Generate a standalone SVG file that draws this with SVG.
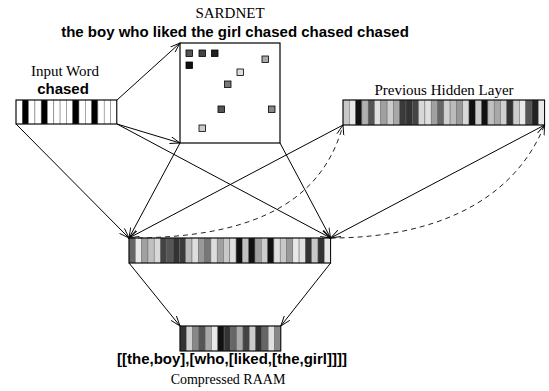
<svg xmlns="http://www.w3.org/2000/svg" width="549" height="391" viewBox="0 0 549 391">
<style>
.serif{font-family:"Liberation Serif","Times New Roman",serif;font-size:15px;fill:#000}
.bold{font-family:"Liberation Sans",Arial,sans-serif;font-size:15px;font-weight:bold;fill:#000}
.c{stroke:#666;stroke-width:0.5}
.frame{fill:none;stroke:#000;stroke-width:1}
.sq{stroke:#000;stroke-width:0.8}
.ln{fill:none;stroke:#000;stroke-width:1;marker-end:url(#a)}
.dash{fill:none;stroke:#222;stroke-width:1;stroke-dasharray:5 4;marker-end:url(#a)}
</style>
<defs>
<marker id="a" markerWidth="12" markerHeight="9" refX="10" refY="4.5" orient="auto" markerUnits="userSpaceOnUse">
<path d="M0,1 L10,4.5 L0,8" fill="none" stroke="#000" stroke-width="0.9"/>
</marker>
</defs>
<rect width="549" height="391" fill="#fff"/>

<g id="sardnet">
<text class="serif" x="230" y="18" text-anchor="middle">SARDNET</text>
<text class="bold" x="235" y="37" text-anchor="middle">the boy who liked the girl chased chased chased</text>
<rect x="180" y="43" width="100" height="100" fill="#fff" stroke="#000" stroke-width="1.2"/>
<rect class="sq" x="186" y="50" width="6.5" height="6.5" fill="#555"/>
<rect class="sq" x="199" y="50" width="6.5" height="6.5" fill="#444"/>
<rect class="sq" x="211.5" y="50" width="6.5" height="6.5" fill="#222"/>
<rect class="sq" x="186" y="62" width="6.5" height="6.5" fill="#111"/>
<rect class="sq" x="262" y="56" width="6.5" height="6.5" fill="#aaa"/>
<rect class="sq" x="237" y="69" width="6.5" height="6.5" fill="#ddd"/>
<rect class="sq" x="224.5" y="81" width="6.5" height="6.5" fill="#777"/>
<rect class="sq" x="218" y="106" width="6.5" height="6.5" fill="#555"/>
<rect class="sq" x="268.5" y="106" width="6.5" height="6.5" fill="#888"/>
<rect class="sq" x="199" y="125" width="6.5" height="6.5" fill="#ccc"/>
</g>

<g id="input-word">
<text class="serif" x="65" y="76" text-anchor="middle">Input Word</text>
<text class="bold" x="63" y="94" text-anchor="middle">chased</text>
<g transform="translate(16,100)">
<rect class="c" x="0" width="6.3" height="24" fill="#fff"/>
<rect class="c" x="6.3" width="6.3" height="24" fill="#000"/>
<rect class="c" x="12.6" width="6.3" height="24" fill="#fff"/>
<rect class="c" x="18.9" width="6.3" height="24" fill="#fff"/>
<rect class="c" x="25.2" width="6.3" height="24" fill="#000"/>
<rect class="c" x="31.5" width="6.3" height="24" fill="#fff"/>
<rect class="c" x="37.8" width="6.3" height="24" fill="#fff"/>
<rect class="c" x="44.1" width="6.3" height="24" fill="#fff"/>
<rect class="c" x="50.4" width="6.3" height="24" fill="#fff"/>
<rect class="c" x="56.7" width="6.3" height="24" fill="#000"/>
<rect class="c" x="63" width="6.3" height="24" fill="#fff"/>
<rect class="c" x="69.3" width="6.3" height="24" fill="#fff"/>
<rect class="c" x="75.6" width="6.3" height="24" fill="#000"/>
<rect class="c" x="81.9" width="6.3" height="24" fill="#fff"/>
<rect class="c" x="88.2" width="6.3" height="24" fill="#fff"/>
<rect class="c" x="94.5" width="6.3" height="24" fill="#fff"/>
<rect class="frame" x="0" y="0" width="100.8" height="24"/>
</g>
</g>

<g id="previous-hidden-layer">
<text class="serif" x="444" y="95" text-anchor="middle">Previous Hidden Layer</text>
<g transform="translate(343,100)">
<rect class="c" x="0" width="6.3" height="25" fill="#c8c8c8"/>
<rect class="c" x="6.3" width="6.3" height="25" fill="#e8e8e8"/>
<rect class="c" x="12.6" width="6.3" height="25" fill="#111"/>
<rect class="c" x="18.9" width="6.3" height="25" fill="#b0b0b0"/>
<rect class="c" x="25.2" width="6.3" height="25" fill="#555"/>
<rect class="c" x="31.5" width="6.3" height="25" fill="#e0e0e0"/>
<rect class="c" x="37.8" width="6.3" height="25" fill="#a0a0a0"/>
<rect class="c" x="44.1" width="6.3" height="25" fill="#ccc"/>
<rect class="c" x="50.4" width="6.3" height="25" fill="#a8a8a8"/>
<rect class="c" x="56.7" width="6.3" height="25" fill="#3a3a3a"/>
<rect class="c" x="63" width="6.3" height="25" fill="#333"/>
<rect class="c" x="69.3" width="6.3" height="25" fill="#444"/>
<rect class="c" x="75.6" width="6.3" height="25" fill="#d8d8d8"/>
<rect class="c" x="81.9" width="6.3" height="25" fill="#e0e0e0"/>
<rect class="c" x="88.2" width="6.3" height="25" fill="#a0a0a0"/>
<rect class="c" x="94.5" width="6.3" height="25" fill="#666"/>
<rect class="c" x="100.8" width="6.3" height="25" fill="#d0d0d0"/>
<rect class="c" x="107.1" width="6.3" height="25" fill="#bbb"/>
<rect class="c" x="113.4" width="6.3" height="25" fill="#999"/>
<rect class="c" x="119.7" width="6.3" height="25" fill="#d8d8d8"/>
<rect class="c" x="126" width="6.3" height="25" fill="#111"/>
<rect class="c" x="132.3" width="6.3" height="25" fill="#ccc"/>
<rect class="c" x="138.6" width="6.3" height="25" fill="#111"/>
<rect class="c" x="144.9" width="6.3" height="25" fill="#c0c0c0"/>
<rect class="c" x="151.2" width="6.3" height="25" fill="#a8a8a8"/>
<rect class="c" x="157.5" width="6.3" height="25" fill="#d0d0d0"/>
<rect class="c" x="163.8" width="6.3" height="25" fill="#333"/>
<rect class="c" x="170.1" width="6.3" height="25" fill="#ccc"/>
<rect class="c" x="176.4" width="6.3" height="25" fill="#e8e8e8"/>
<rect class="c" x="182.7" width="6.3" height="25" fill="#555"/>
<rect class="c" x="189" width="6.3" height="25" fill="#222"/>
<rect class="c" x="195.3" width="6.3" height="25" fill="#e8e8e8"/>
<rect class="frame" x="0" y="0" width="201.6" height="25"/>
</g>
</g>

<g id="hidden-layer">
<g transform="translate(129,238)">
<rect class="c" x="0" width="6.3" height="25" fill="#666"/>
<rect class="c" x="6.3" width="6.3" height="25" fill="#e8e8e8"/>
<rect class="c" x="12.6" width="6.3" height="25" fill="#a0a0a0"/>
<rect class="c" x="18.9" width="6.3" height="25" fill="#c0c0c0"/>
<rect class="c" x="25.2" width="6.3" height="25" fill="#d8d8d8"/>
<rect class="c" x="31.5" width="6.3" height="25" fill="#444"/>
<rect class="c" x="37.8" width="6.3" height="25" fill="#555"/>
<rect class="c" x="44.1" width="6.3" height="25" fill="#333"/>
<rect class="c" x="50.4" width="6.3" height="25" fill="#3a3a3a"/>
<rect class="c" x="56.7" width="6.3" height="25" fill="#bbb"/>
<rect class="c" x="63" width="6.3" height="25" fill="#ddd"/>
<rect class="c" x="69.3" width="6.3" height="25" fill="#999"/>
<rect class="c" x="75.6" width="6.3" height="25" fill="#777"/>
<rect class="c" x="81.9" width="6.3" height="25" fill="#ddd"/>
<rect class="c" x="88.2" width="6.3" height="25" fill="#a0a0a0"/>
<rect class="c" x="94.5" width="6.3" height="25" fill="#c8c8c8"/>
<rect class="c" x="100.8" width="6.3" height="25" fill="#e0e0e0"/>
<rect class="c" x="107.1" width="6.3" height="25" fill="#111"/>
<rect class="c" x="113.4" width="6.3" height="25" fill="#c0c0c0"/>
<rect class="c" x="119.7" width="6.3" height="25" fill="#111"/>
<rect class="c" x="126" width="6.3" height="25" fill="#a0a0a0"/>
<rect class="c" x="132.3" width="6.3" height="25" fill="#ccc"/>
<rect class="c" x="138.6" width="6.3" height="25" fill="#111"/>
<rect class="c" x="144.9" width="6.3" height="25" fill="#e0e0e0"/>
<rect class="c" x="151.2" width="6.3" height="25" fill="#c8c8c8"/>
<rect class="c" x="157.5" width="6.3" height="25" fill="#999"/>
<rect class="c" x="163.8" width="6.3" height="25" fill="#e8e8e8"/>
<rect class="c" x="170.1" width="6.3" height="25" fill="#e0e0e0"/>
<rect class="c" x="176.4" width="6.3" height="25" fill="#333"/>
<rect class="c" x="182.7" width="6.3" height="25" fill="#c8c8c8"/>
<rect class="c" x="189" width="6.3" height="25" fill="#333"/>
<rect class="c" x="195.3" width="6.3" height="25" fill="#e8e8e8"/>
<rect class="frame" x="0" y="0" width="201.6" height="25"/>
</g>
</g>

<g id="compressed-raam">
<g transform="translate(180,326)">
<rect class="c" x="0" width="6.3" height="25" fill="#333"/>
<rect class="c" x="6.3" width="6.3" height="25" fill="#d0d0d0"/>
<rect class="c" x="12.6" width="6.3" height="25" fill="#888"/>
<rect class="c" x="18.9" width="6.3" height="25" fill="#555"/>
<rect class="c" x="25.2" width="6.3" height="25" fill="#a8a8a8"/>
<rect class="c" x="31.5" width="6.3" height="25" fill="#e8e8e8"/>
<rect class="c" x="37.8" width="6.3" height="25" fill="#111"/>
<rect class="c" x="44.1" width="6.3" height="25" fill="#333"/>
<rect class="c" x="50.4" width="6.3" height="25" fill="#666"/>
<rect class="c" x="56.7" width="6.3" height="25" fill="#aaa"/>
<rect class="c" x="63" width="6.3" height="25" fill="#444"/>
<rect class="c" x="69.3" width="6.3" height="25" fill="#ccc"/>
<rect class="c" x="75.6" width="6.3" height="25" fill="#333"/>
<rect class="c" x="81.9" width="6.3" height="25" fill="#666"/>
<rect class="c" x="88.2" width="6.3" height="25" fill="#e0e0e0"/>
<rect class="c" x="94.5" width="6.3" height="25" fill="#888"/>
<rect class="frame" x="0" y="0" width="100.8" height="25"/>
</g>
<text class="bold" x="232" y="364" text-anchor="middle">[[the,boy],[who,[liked,[the,girl]]]]</text>
<text class="serif" x="228" y="384" text-anchor="middle" style="font-size:14px">Compressed RAAM</text>
</g>

<g id="connectors">
<line class="ln" x1="117" y1="100" x2="180" y2="43"/>
<line class="ln" x1="117" y1="124" x2="180" y2="143"/>
<line class="ln" x1="117" y1="124" x2="330.6" y2="238"/>
<line class="ln" x1="16" y1="124" x2="129" y2="238"/>
<line class="ln" x1="180" y1="143" x2="129" y2="238"/>
<line class="ln" x1="280" y1="143" x2="330.6" y2="238"/>
<line class="ln" x1="343" y1="125" x2="129" y2="238"/>
<line class="ln" x1="544.6" y1="125" x2="330.6" y2="238"/>
<line class="ln" x1="129" y1="263" x2="180" y2="326"/>
<line class="ln" x1="330.6" y1="263" x2="280.8" y2="326"/>
<path class="dash" d="M129,238 C240,238 320,210 343,125"/>
<path class="dash" d="M330.6,238 C420,238 510,210 544.6,125"/>
</g>
</svg>
